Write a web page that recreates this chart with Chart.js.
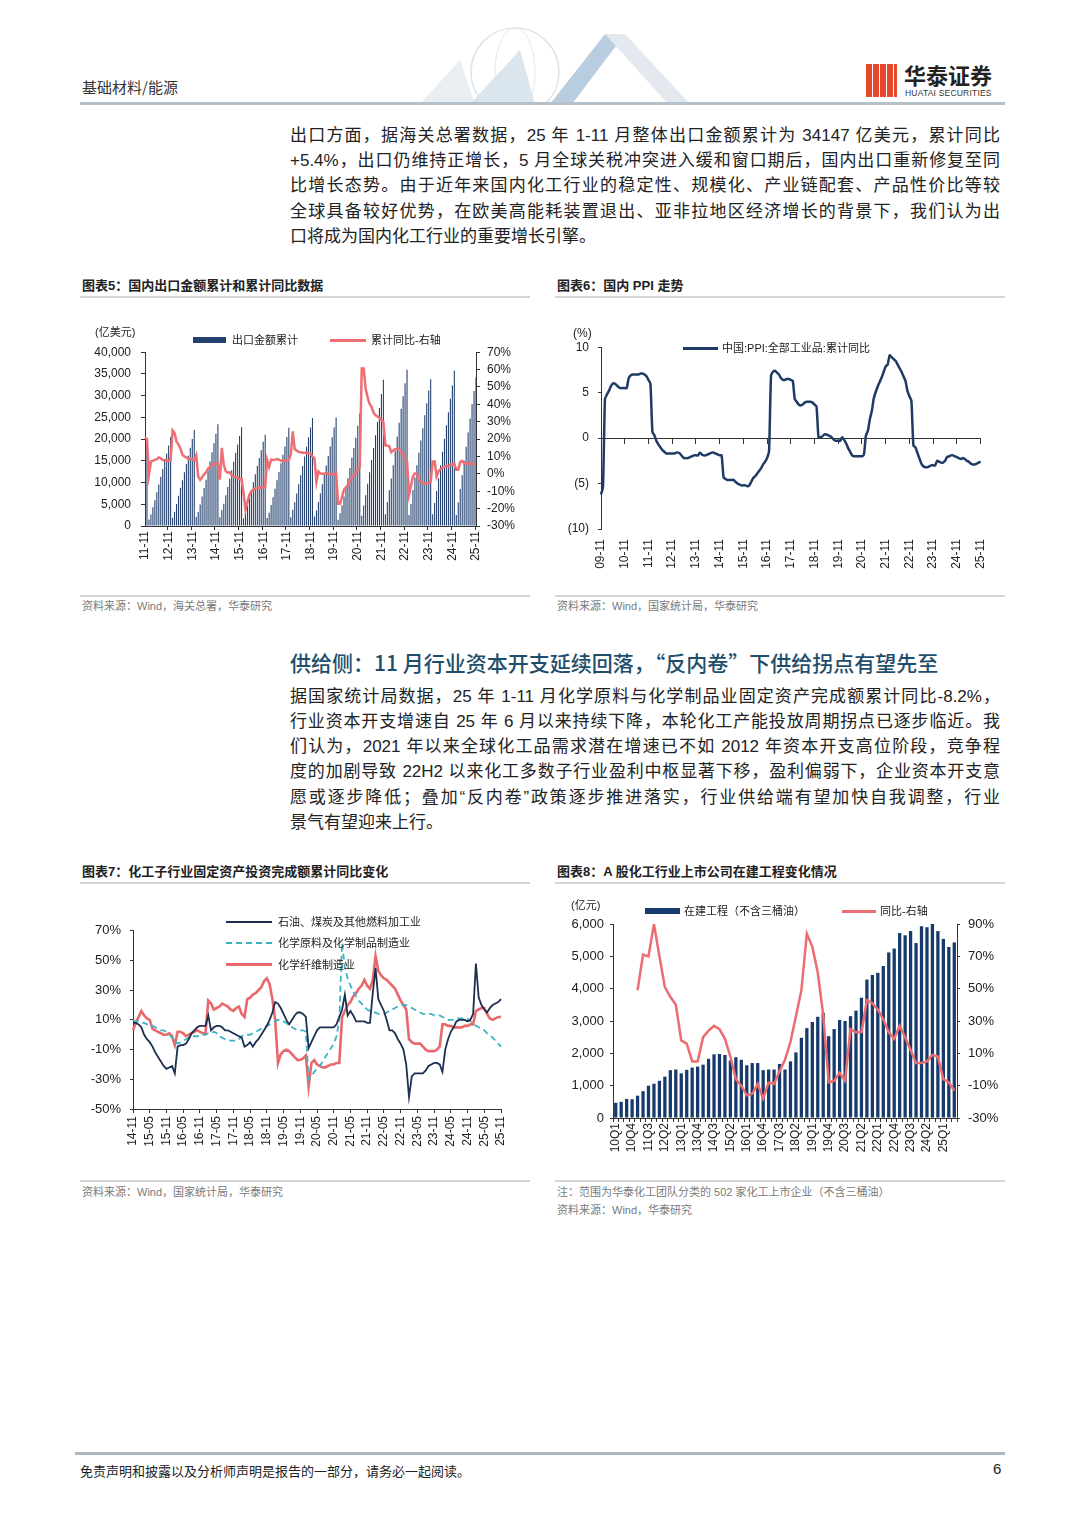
<!DOCTYPE html>
<html lang="zh-CN">
<head>
<meta charset="utf-8">
<title>基础材料/能源 图表5-8</title>
<script src="https://cdn.jsdelivr.net/npm/chart.js@4.4.1/dist/chart.umd.min.js"></script>
<style>
  html, body { margin: 0; padding: 0; background: #fff; }
  body { width: 1080px; height: 1527px; position: relative; overflow: hidden;
         font-family: "Liberation Sans", "Noto Sans CJK SC", sans-serif; color: #222; }
  .abs { position: absolute; white-space: nowrap; }
  .rule { position: absolute; height: 2px; background: #d4d4d4; }
  .para div { position: absolute; left: 290px; width: 710px; font-size: 17px; line-height: 20px;
              text-align: justify; text-align-last: justify; color: #222; }
  .para div.last { text-align-last: left; }
  .ctitle { position: absolute; font-size: 13px; font-weight: bold; line-height: 16px; color: #222; white-space: nowrap; }
  .src { position: absolute; font-size: 11px; line-height: 14px; color: #7a7a7a; white-space: nowrap; }
  .box { position: absolute; }
  .lg { position: absolute; font-size: 11px; line-height: 14px; color: #222; white-space: nowrap; }
  .sw { position: absolute; }
</style>
</head>
<body>

<!-- header -->
<svg class="abs" style="left:400px;top:20px" width="320" height="84">
  <circle cx="115" cy="52" r="44" fill="none" stroke="#dfe5ea" stroke-width="1.5"/>
  <ellipse cx="115" cy="52" rx="20" ry="44" fill="none" stroke="#e4e9ee" stroke-width="1"/>
  <polygon points="20,84 60,40 75,84" fill="#e9eef3"/>
  <polygon points="70,84 120,30 135,84" fill="#dbe5ee"/>
  <polygon points="150,84 205,14 225,14 172,84" fill="#b9cde0"/>
  <polygon points="205,14 225,14 290,84 268,84" fill="#e3e9ef"/>
</svg>
<div class="abs" style="left:82px;top:76px;font-size:15px;color:#333;font-family:'Noto Sans CJK SC'">基础材料/能源</div>
<div class="abs" style="left:866px;top:64px;width:31px;height:33px;background:repeating-linear-gradient(90deg,#e5482d 0 6px,#fff 6px 7px)"></div>
<div class="abs" style="left:904px;top:58px;font-size:22px;font-weight:bold;color:#222;font-family:'Noto Sans CJK SC'">华泰证券</div>
<div class="abs" style="left:905px;top:88px;font-size:8.5px;color:#333;letter-spacing:0.2px">HUATAI SECURITIES</div>
<div class="abs" style="left:80px;top:102px;width:925px;height:3px;background:#b4c0ca"></div>

<div class="para">
  <div style="top:126px">出口方面，据海关总署数据，25 年 1-11 月整体出口金额累计为 34147 亿美元，累计同比</div>
  <div style="top:151px">+5.4%，出口仍维持正增长，5 月全球关税冲突进入缓和窗口期后，国内出口重新修复至同</div>
  <div style="top:176px">比增长态势。由于近年来国内化工行业的稳定性、规模化、产业链配套、产品性价比等较</div>
  <div style="top:202px">全球具备较好优势，在欧美高能耗装置退出、亚非拉地区经济增长的背景下，我们认为出</div>
  <div class="last" style="top:227px">口将成为国内化工行业的重要增长引擎。</div>
</div>

<!-- row 1 -->
<div class="ctitle" style="left:82px;top:278px">图表5：国内出口金额累计和累计同比数据</div>
<div class="ctitle" style="left:557px;top:278px">图表6：国内 PPI 走势</div>
<div class="rule" style="left:80px;top:296px;width:450px"></div>
<div class="rule" style="left:555px;top:296px;width:450px"></div>

<div class="box" style="left:80px;top:335px;width:440px;height:245px"><canvas id="c5"></canvas></div>
<div class="abs" style="left:95px;top:323px;font-size:11px">(亿美元)</div>
<div class="sw" style="left:193px;top:337px;width:33px;height:6px;background:#23406e"></div>
<div class="lg" id="lg5at" style="left:232px;top:333px"></div>
<div class="sw" style="left:330px;top:339px;width:36px;height:3px;background:#ee6f73"></div>
<div class="lg" id="lg5bt" style="left:371px;top:333px"></div>

<div class="box" style="left:555px;top:331px;width:450px;height:249px"><canvas id="c6"></canvas></div>
<div class="abs" style="left:573px;top:326px;font-size:12px">(%)</div>
<div class="sw" style="left:683px;top:347px;width:35px;height:3px;background:#1f3a64"></div>
<div class="lg" id="lg6t" style="left:722px;top:341px"></div>

<div class="rule" style="left:80px;top:595px;width:450px"></div>
<div class="rule" style="left:555px;top:595px;width:450px"></div>
<div class="src" style="left:82px;top:599px">资料来源：Wind，海关总署，华泰研究</div>
<div class="src" style="left:557px;top:599px">资料来源：Wind，国家统计局，华泰研究</div>

<div class="abs" style="left:290px;top:650px;font-size:21px;line-height:24px;color:#1f4e6b;font-weight:500;font-family:'Noto Sans CJK SC'">供给侧：11 月行业资本开支延续回落，“反内卷”下供给拐点有望先至</div>

<div class="para">
  <div style="top:687px">据国家统计局数据，25 年 1-11 月化学原料与化学制品业固定资产完成额累计同比-8.2%，</div>
  <div style="top:712px">行业资本开支增速自 25 年 6 月以来持续下降，本轮化工产能投放周期拐点已逐步临近。我</div>
  <div style="top:737px">们认为，2021 年以来全球化工品需求潜在增速已不如 2012 年资本开支高位阶段，竞争程</div>
  <div style="top:762px">度的加剧导致 22H2 以来化工多数子行业盈利中枢显著下移，盈利偏弱下，企业资本开支意</div>
  <div style="top:788px">愿或逐步降低；叠加“反内卷”政策逐步推进落实，行业供给端有望加快自我调整，行业</div>
  <div class="last" style="top:813px">景气有望迎来上行。</div>
</div>

<!-- row 2 -->
<div class="ctitle" style="left:82px;top:864px">图表7：化工子行业固定资产投资完成额累计同比变化</div>
<div class="ctitle" style="left:557px;top:864px">图表8：A 股化工行业上市公司在建工程变化情况</div>
<div class="rule" style="left:80px;top:882px;width:450px"></div>
<div class="rule" style="left:555px;top:882px;width:450px"></div>

<div class="box" style="left:80px;top:914px;width:450px;height:246px"><canvas id="c7"></canvas></div>
<div class="sw" style="left:226px;top:921px;width:46px;height:2px;background:#1c2f4f"></div>
<div class="lg" id="lg7a" style="left:278px;top:915px"></div>
<div class="sw" style="left:226px;top:942px;width:46px;height:0;border-top:2px dashed #3bb3c3"></div>
<div class="lg" id="lg7b" style="left:278px;top:936px"></div>
<div class="sw" style="left:226px;top:963px;width:46px;height:3px;background:#e9686c"></div>
<div class="lg" id="lg7c" style="left:278px;top:958px"></div>

<div class="box" style="left:555px;top:895px;width:450px;height:265px"><canvas id="c8"></canvas></div>
<div class="abs" style="left:571px;top:896px;font-size:11px">(亿元)</div>
<div class="sw" style="left:645px;top:908px;width:35px;height:6px;background:#163a6b"></div>
<div class="lg" id="lg8a" style="left:684px;top:904px"></div>
<div class="sw" style="left:842px;top:910px;width:34px;height:3px;background:#ec6d71"></div>
<div class="lg" id="lg8b" style="left:880px;top:904px"></div>

<div class="rule" style="left:80px;top:1180px;width:450px"></div>
<div class="rule" style="left:555px;top:1180px;width:450px"></div>
<div class="src" style="left:82px;top:1185px">资料来源：Wind，国家统计局，华泰研究</div>
<div class="src" style="left:557px;top:1185px">注：范围为华泰化工团队分类的 502 家化工上市企业（不含三桶油）</div>
<div class="src" style="left:557px;top:1203px">资料来源：Wind，华泰研究</div>

<!-- footer -->
<div class="abs" style="left:75px;top:1452px;width:930px;height:3px;background:#aab6c1"></div>
<div class="abs" style="left:80px;top:1461px;font-size:13px;color:#222;font-family:'Noto Sans CJK SC'">免责声明和披露以及分析师声明是报告的一部分，请务必一起阅读。</div>
<div class="abs" style="left:993px;top:1460px;font-size:15px">6</div>

<script>
// ---------- data ----------
function monthSeq(y, m, n) {
  const out = [];
  for (let i = 0; i < n; i++) {
    out.push(String(y % 100).padStart(2, '0') + '-' + String(m).padStart(2, '0'));
    m++; if (m > 12) { m = 1; y++; }
  }
  return out;
}

// 图表5 出口金额累计（亿美元）与累计同比（%），11-11 ~ 25-11
const exportMonths = monthSeq(2011, 11, 169);
const exportName = '出口金额累计';
const exportYoyName = '累计同比-右轴';
const exportCum = [
  17200, 18984,
  1500, 2650, 4300, 5930, 7750, 9540, 11310, 13090, 14950, 16710, 18500, 20490,
  1870, 3270, 5090, 6960, 8790, 10530, 12390, 14290, 16150, 18000, 20020, 22090,
  2070, 3220, 4920, 6810, 8760, 10630, 12760, 14850, 17000, 19070, 21240, 23420,
  2000, 3690, 5140, 7050, 8950, 10870, 12830, 14790, 16840, 18770, 20730, 22730,
  1770, 2850, 4630, 6360, 8180, 10050, 11890, 13800, 15640, 17430, 19390, 20980,
  1830, 3040, 4840, 6640, 8550, 10520, 12450, 14440, 16420, 18320, 20490, 22630,
  2000, 3730, 5470, 7470, 9590, 11660, 13810, 15990, 18260, 20410, 22680, 24870,
  2180, 3540, 5530, 7460, 9600, 11730, 13950, 16100, 18280, 20410, 22690, 24990,
  1460, 2920, 4780, 6790, 8850, 11000, 13370, 15720, 17950, 20320, 23070, 25900,
  2340, 4690, 7100, 9740, 12380, 15190, 17970, 20910, 23970, 27180, 30380, 33640,
  2720, 5440, 8200, 10930, 14010, 17260, 20590, 23740, 26960, 29890, 32880, 35940,
  2530, 5060, 8210, 11160, 14000, 16850, 19660, 22500, 25490, 28240, 31160, 33800,
  2710, 5280, 8080, 10990, 14010, 17090, 20090, 23160, 26190, 29280, 32350, 35770,
  2540, 5400, 8540, 11690, 15000, 18250, 21520, 24740, 28020, 31070, 34150
];
const exportYoy = [
  21, 20,
  -0.5, 7, 7.5, 8, 8.5, 9.5, 9, 8, 8, 7.5, 7.3, 7.9,
  25, 23.5, 18.5, 17, 14.5, 11, 10, 9.5, 8.5, 8.5, 8.4, 7.9,
  10.6, -1.6, -3.4, -1.8, -0.3, 0.9, 3, 3.9, 5.1, 5.9, 5.8, 6.1,
  -3.3, 15, 4.9, 1.5, 0.7, 0.9, -0.8, -1.6, -1.9, -2.2, -3, -2.8,
  -11, -20.6, -16, -12, -10, -9, -8.5, -8.2, -8, -7.7, -7.5, -7.7,
  7.9, 4, 8.2, 8, 8.2, 8.5, 8.2, 7.5, 7.5, 7.4, 7.8, 7.9,
  11.1, 24.4, 14.1, 13.5, 12.6, 12.5, 12.2, 12.2, 12.2, 11.6, 11.8, 9.9,
  9.1, -4.6, 1.4, 0.2, 0, 0.1, 0.6, 0.1, -0.1, -0.2, -0.3, 0.5,
  -17.2, -17.2, -13.3, -9.1, -7.7, -6.2, -4.1, -2.3, -0.8, 0.5, 2.5, 3.6,
  60.6, 60.6, 49, 44, 40.2, 38.6, 35.2, 33.7, 33, 32.3, 31.1, 29.9,
  16.3, 16.3, 15.8, 12.5, 13.5, 14.2, 14.6, 14.2, 12.5, 11.1, 9, 7,
  -12, -7, -1.5, 0.3, 0, -3.2, -4.5, -5.4, -5.7, -5.6, -5.4, -4.6,
  7.1, 7.1, -1.5, 1.5, 2.7, 3.6, 4, 4.6, 4.3, 5.1, 5.4, 5.9,
  2.3, 2.3, 6.9, 7.5, 6, 5.9, 6.1, 5.9, 6.1, 5.3, 5.4
];

// 图表6 PPI 累计同比（%），09-11 ~ 25-11
const ppiMonths = monthSeq(2009, 11, 193);
const ppiName = '中国:PPI:全部工业品:累计同比';
const ppi = [
  -6.2, -5.4,
  4.3, 4.8, 5.2, 5.7, 6.0, 6.0, 5.8, 5.6, 5.5, 5.5, 5.5, 5.5,
  6.6, 6.9, 7.0, 7.0, 7.0, 7.0, 7.1, 7.1, 7.0, 6.8, 6.4, 6.0,
  0.7, 0.3, -0.3, -0.7, -1.0, -1.3, -1.5, -1.7, -1.7, -1.7, -1.7, -1.7,
  -1.6, -1.6, -1.7, -2.0, -2.2, -2.2, -2.2, -2.1, -2.0, -1.9, -1.9, -1.9,
  -1.6, -1.8, -1.9, -1.9, -1.8, -1.7, -1.6, -1.6, -1.7, -1.8, -1.9, -1.9,
  -4.3, -4.5, -4.6, -4.6, -4.6, -4.6, -4.8, -5.0, -5.1, -5.2, -5.2, -5.2,
  -5.3, -5.2, -4.8, -4.4, -4.2, -3.9, -3.6, -3.3, -2.9, -2.6, -2.2, -1.4,
  6.9, 7.3, 7.4, 7.2, 7.0, 6.6, 6.4, 6.4, 6.5, 6.5, 6.4, 6.3,
  4.3, 4.0, 3.7, 3.6, 3.7, 3.9, 4.0, 4.0, 4.0, 3.9, 3.7, 3.5,
  0.1, 0.1, 0.2, 0.4, 0.4, 0.3, 0.2, 0.0, -0.2, -0.3, -0.3, -0.3,
  0.1, -0.2, -0.6, -1.1, -1.5, -1.9, -2.0, -2.0, -2.0, -2.0, -2.0, -1.8,
  0.3, 0.8, 2.1, 3.0, 4.4, 5.1, 5.7, 6.2, 6.7, 7.3, 7.9, 8.1,
  9.1, 8.9, 8.7, 8.5, 8.1, 7.7, 7.3, 6.8, 6.3, 5.2, 4.6, 4.1,
  -0.8, -1.0, -1.6, -2.2, -2.8, -3.1, -3.2, -3.2, -3.1, -3.0, -3.0, -3.0,
  -2.5, -2.6, -2.7, -2.7, -2.5, -2.1, -2.0, -1.9, -1.9, -2.0, -2.1, -2.2,
  -2.3, -2.2, -2.3, -2.5, -2.6, -2.8, -2.9, -2.9, -2.8, -2.7, -2.6
];

// 图表7 子行业固定资产投资完成额累计同比（%），14-11 ~ 25-11
const faiMonths = monthSeq(2014, 11, 133);
const oilName = '石油、煤炭及其他燃料加工业';
const chemName = '化学原料及化学制品制造业';
const fiberName = '化学纤维制造业';
const oilFai = [
  8, 8, 7, 5, 0, -3, -5, -8, -12, -15, -18, -21,
  -23, -22, -21, -26, -8, -7, -7, -6, -3, 1, 3, 5,
  6, 6, 6, 13, 3, 5, 6, 6, 5, 3, 3, 2,
  1, 0, -1, -2, -8, -7, -5, -8, -5, -3, 0, 3,
  6, 10, 15, 22, 21, 18, 14, 10, 7, 10, 13, 15,
  15, 14, 12, -9, -5, -1, 3, 5, 5, 5, 5, 5,
  5, 7, 12, 17, 27, 13, 16, 13, 9, 9, 9, 9,
  8, 8, 28, 45, 24, 20, 16, 10, 3, 3, 1, -3,
  -6, -10, -20, -42, -28, -26, -26, -26, -26, -24, -21, -20,
  -19, -19, -20, -25, -10, -3, 2, 5, 9, 10, 10, 10,
  9, 10, 14, 48, 25, 20, 17, 15, 18, 20, 21, 22,
  24
];
const chemFai = [
  10, 9, 9, 8, 8, 7, 7, 6, 5, 4, 3, 3,
  2, 0, -2, -4, -6, -5, -4, -3, -2, -1, -1, -1,
  -1, 0, 0, 1, 1, 2, 1, -1, -2, -3, -3, -4,
  -4, -4, -3, -1, 0, 0, 0, 1, 2, 3, 4, 5,
  6, 7, 8, 9, 10, 10, 9, 8, 6, 5, 4, 3,
  3, 3, 2, -30, -28, -25, -23, -21, -18, -15, -12, -9,
  -6, -1, 10, 62, 45, 38, 33, 29, 26, 23, 21, 19,
  17, 16, 15, 15, 14, 14, 14, 15, 16, 17, 18, 19,
  20, 20, 20, 19, 18, 17, 16, 15, 14, 14, 14, 14,
  13, 13, 13, 12, 11, 10, 10, 10, 11, 11, 11, 11,
  11, 9, 8, 6, 5, 4, 3, 1, 0, -2, -4, -6,
  -8
];
const fiberFai = [
  3, 8, 12, 16, 13, 11, 10, 4, 3, 2, 1, 0,
  0, 1, -1, -7, 2, 2, 1, -1, 0, 1, 2, 3,
  2, 1, 1, 23, 21, 17, 18, 19, 21, 20, 19, 17,
  16, 18, 19, 14, 12, 24, 25, 27, 28, 30, 32, 36,
  38, 34, 24, 10, -19, -13, -11, -10, -11, -13, -15, -17,
  -17, -16, -14, -35, -19, -17, -20, -21, -22, -22, -21, -20,
  -20, -19, -19, 12, 16, 20, 22, 26, 28, 31, 33, 37,
  33, 31, 37, 53, 43, 40, 38, 37, 35, 33, 31, 27,
  23, 20, 17, -3, -5, -6, -6, -6, -8, -10, -11, -11,
  -11, -10, -8, 7, 7, 6, 6, 5, 5, 5, 5, 6,
  6, 7, 7, 16, 17, 18, 18, 14, 11, 10, 11, 12,
  12
];

// 图表8 在建工程（亿元）与同比（%），10Q1 ~ 25Q3
const quarters = [];
for (let y = 2010; quarters.length < 63; y++) {
  for (let q = 1; q <= 4 && quarters.length < 63; q++) quarters.push(String(y).slice(2) + 'Q' + q);
}
const cipName = '在建工程（不含三桶油）';
const cipYoyName = '同比-右轴';
const cip = [
  470, 500, 590, 580, 690, 830, 1000, 1060, 1150, 1280, 1480, 1500,
  1380, 1490, 1560, 1590, 1650, 1830, 1970, 1980, 1950, 1780, 1880, 1800,
  1630, 1700, 1700, 1480, 1500, 1500, 1670, 1500, 1750, 2030, 2480, 2780,
  2970, 3130, 3250, 2530, 2750, 3030, 3000, 3150, 3320, 3720, 4280, 4420,
  4490, 4700, 5120, 5240, 5720, 5650, 5780, 5410, 5930, 5900, 6000, 5780,
  5540, 5290, 5430
];
const cipYoy = [
  null, null, null, null, 49, 71, 70, 90, 70, 51, 45, 40,
  18, 16, 5, 5, 20, 24, 27, 25, 19, 8, -6, -10,
  -16, -15, -9, -18, -8, -9, -1, 6, 17, 33, 49, 84,
  76, 60, 34, -8, -7, -2, -7, 25, 23, 23, 43, 41,
  37, 31, 23, 19, 27, 20, 12, 4, 4, 5, 9, 8,
  -6, -8, -13
];

// ---------- legends (text only, swatches are in the markup) ----------
document.getElementById('lg5at').textContent = exportName;
document.getElementById('lg5bt').textContent = exportYoyName;
document.getElementById('lg6t').textContent = ppiName;
document.getElementById('lg7a').textContent = oilName;
document.getElementById('lg7b').textContent = chemName;
document.getElementById('lg7c').textContent = fiberName;
document.getElementById('lg8a').textContent = cipName;
document.getElementById('lg8b').textContent = cipYoyName;

// ---------- chart helpers ----------
Chart.defaults.font.family = '"Liberation Sans", "Noto Sans CJK SC", sans-serif';
Chart.defaults.font.size = 12;
Chart.defaults.color = '#222';
Chart.defaults.animation = false;
Chart.defaults.plugins.legend.display = false;
Chart.defaults.plugins.tooltip.enabled = false;

const AXIS = '#333';
const NONE = 'rgba(0,0,0,0)';
const isNov = labels => i => typeof i === 'number' && (labels[i] || '').endsWith('-11');
const every = n => i => typeof i === 'number' && i % n === 0;

function valueAxis(o) {
  return {
    position: o.position || 'left',
    min: o.min, max: o.max,
    grid: { drawOnChartArea: false, drawTicks: true, tickLength: o.tick || 4, tickColor: AXIS },
    border: { color: AXIS },
    ticks: { stepSize: o.step, autoSkip: false, padding: o.pad, font: { size: o.size || 12 }, color: '#222',
             callback: o.fmt },
    afterFit: s => { s.width = o.width; }
  };
}

function catAxis(labels, o) {
  return {
    type: 'category',
    offset: o.offset,
    grid: { display: true, drawOnChartArea: false, drawTicks: o.drawTicks !== false, tickLength: 4,
            tickColor: c => (o.tickAll || o.show(c.index)) ? AXIS : NONE },
    border: { display: o.border !== false, color: AXIS },
    ticks: { autoSkip: false, minRotation: 90, maxRotation: 90, padding: o.pad, font: { size: o.size || 12 },
             color: '#222', callback: v => o.show(v) ? labels[v] : '' },
    afterFit: s => { s.height = o.height; }
  };
}

const comma = v => v.toLocaleString('en-US');
const pct = v => v + '%';

// 图表5（纵轴标签的上沿留白 = 半个字高 + padding，由外框上移抵消）
new Chart(document.getElementById('c5'), {
  data: {
    labels: exportMonths,
    datasets: [
      { type: 'line', label: exportYoyName, data: exportYoy, yAxisID: 'y1', order: 0,
        borderColor: '#ee6f73', borderWidth: 2.5, pointRadius: 0, tension: 0 },
      { type: 'bar', label: exportName, data: exportCum, yAxisID: 'y', order: 1,
        backgroundColor: '#23406e', barPercentage: 0.55, categoryPercentage: 1 }
    ]
  },
  options: {
    responsive: true, maintainAspectRatio: false,
    layout: { padding: 0 },
    scales: {
      x: catAxis(exportMonths, { offset: false, pad: 1, height: 54, show: isNov(exportMonths) }),
      y: valueAxis({ min: 0, max: 40000, step: 5000, fmt: comma, width: 65, pad: 10 }),
      y1: valueAxis({ position: 'right', min: -30, max: 70, step: 10, fmt: pct, width: 44, pad: 7 })
    }
  }
});

// 图表6
new Chart(document.getElementById('c6'), {
  type: 'line',
  data: {
    labels: ppiMonths,
    datasets: [
      { label: ppiName, data: ppi, borderColor: '#1f3a64', borderWidth: 2.5, pointRadius: 0, tension: 0.2 }
    ]
  },
  options: {
    responsive: true, maintainAspectRatio: false,
    layout: { padding: { top: 0, left: 0, right: 17, bottom: 0 } },
    scales: {
      x: catAxis(ppiMonths, { offset: false, pad: 10, height: 51, border: false, drawTicks: false,
                              show: isNov(ppiMonths) }),
      x2: {
        type: 'category', position: { y: 0 }, offset: false,
        grid: { drawOnChartArea: false, drawTicks: true, tickLength: 5,
                tickColor: c => isNov(ppiMonths)(c.index) ? AXIS : NONE },
        border: { color: AXIS },
        ticks: { display: false }
      },
      y: valueAxis({ min: -10, max: 10, step: 5, width: 46, pad: 9, tick: 3,
                     fmt: v => v < 0 ? '(' + (-v) + ')' : String(v) })
    }
  }
});

// 图表7
new Chart(document.getElementById('c7'), {
  type: 'line',
  data: {
    labels: faiMonths,
    datasets: [
      { label: oilName, data: oilFai, borderColor: '#1c2f4f', borderWidth: 1.8, pointRadius: 0, tension: 0 },
      { label: chemName, data: chemFai, borderColor: '#3bb3c3', borderWidth: 1.8, borderDash: [6, 4],
        pointRadius: 0, tension: 0 },
      { label: fiberName, data: fiberFai, borderColor: '#e9686c', borderWidth: 2.6, pointRadius: 0, tension: 0 }
    ]
  },
  options: {
    responsive: true, maintainAspectRatio: false,
    layout: { padding: { top: 0, left: 0, right: 29, bottom: 0 } },
    scales: {
      x: catAxis(faiMonths, { offset: false, pad: 3, height: 51, show: every(6) }),
      y: valueAxis({ min: -50, max: 70, step: 20, fmt: pct, width: 53, pad: 9, tick: 3, size: 13 })
    }
  }
});

// 图表8
new Chart(document.getElementById('c8'), {
  data: {
    labels: quarters,
    datasets: [
      { type: 'line', label: cipYoyName, data: cipYoy, yAxisID: 'y1', order: 0,
        borderColor: '#ec6d71', borderWidth: 2.5, pointRadius: 0, tension: 0, spanGaps: false },
      { type: 'bar', label: cipName, data: cip, yAxisID: 'y', order: 1,
        backgroundColor: '#163a6b', barPercentage: 0.6, categoryPercentage: 1 }
    ]
  },
  options: {
    responsive: true, maintainAspectRatio: false,
    layout: { padding: { top: 29, left: 0, right: 0, bottom: 0 } },
    scales: {
      x: catAxis(quarters, { offset: true, pad: 1, height: 42, tickAll: true, show: every(3) }),
      y: valueAxis({ min: 0, max: 6000, step: 1000, fmt: comma, width: 58, pad: 6, tick: 3, size: 13 }),
      y1: valueAxis({ position: 'right', min: -30, max: 90, step: 20, fmt: pct, width: 48, pad: 8, tick: 3, size: 13 })
    }
  }
});
</script>
</body>
</html>
